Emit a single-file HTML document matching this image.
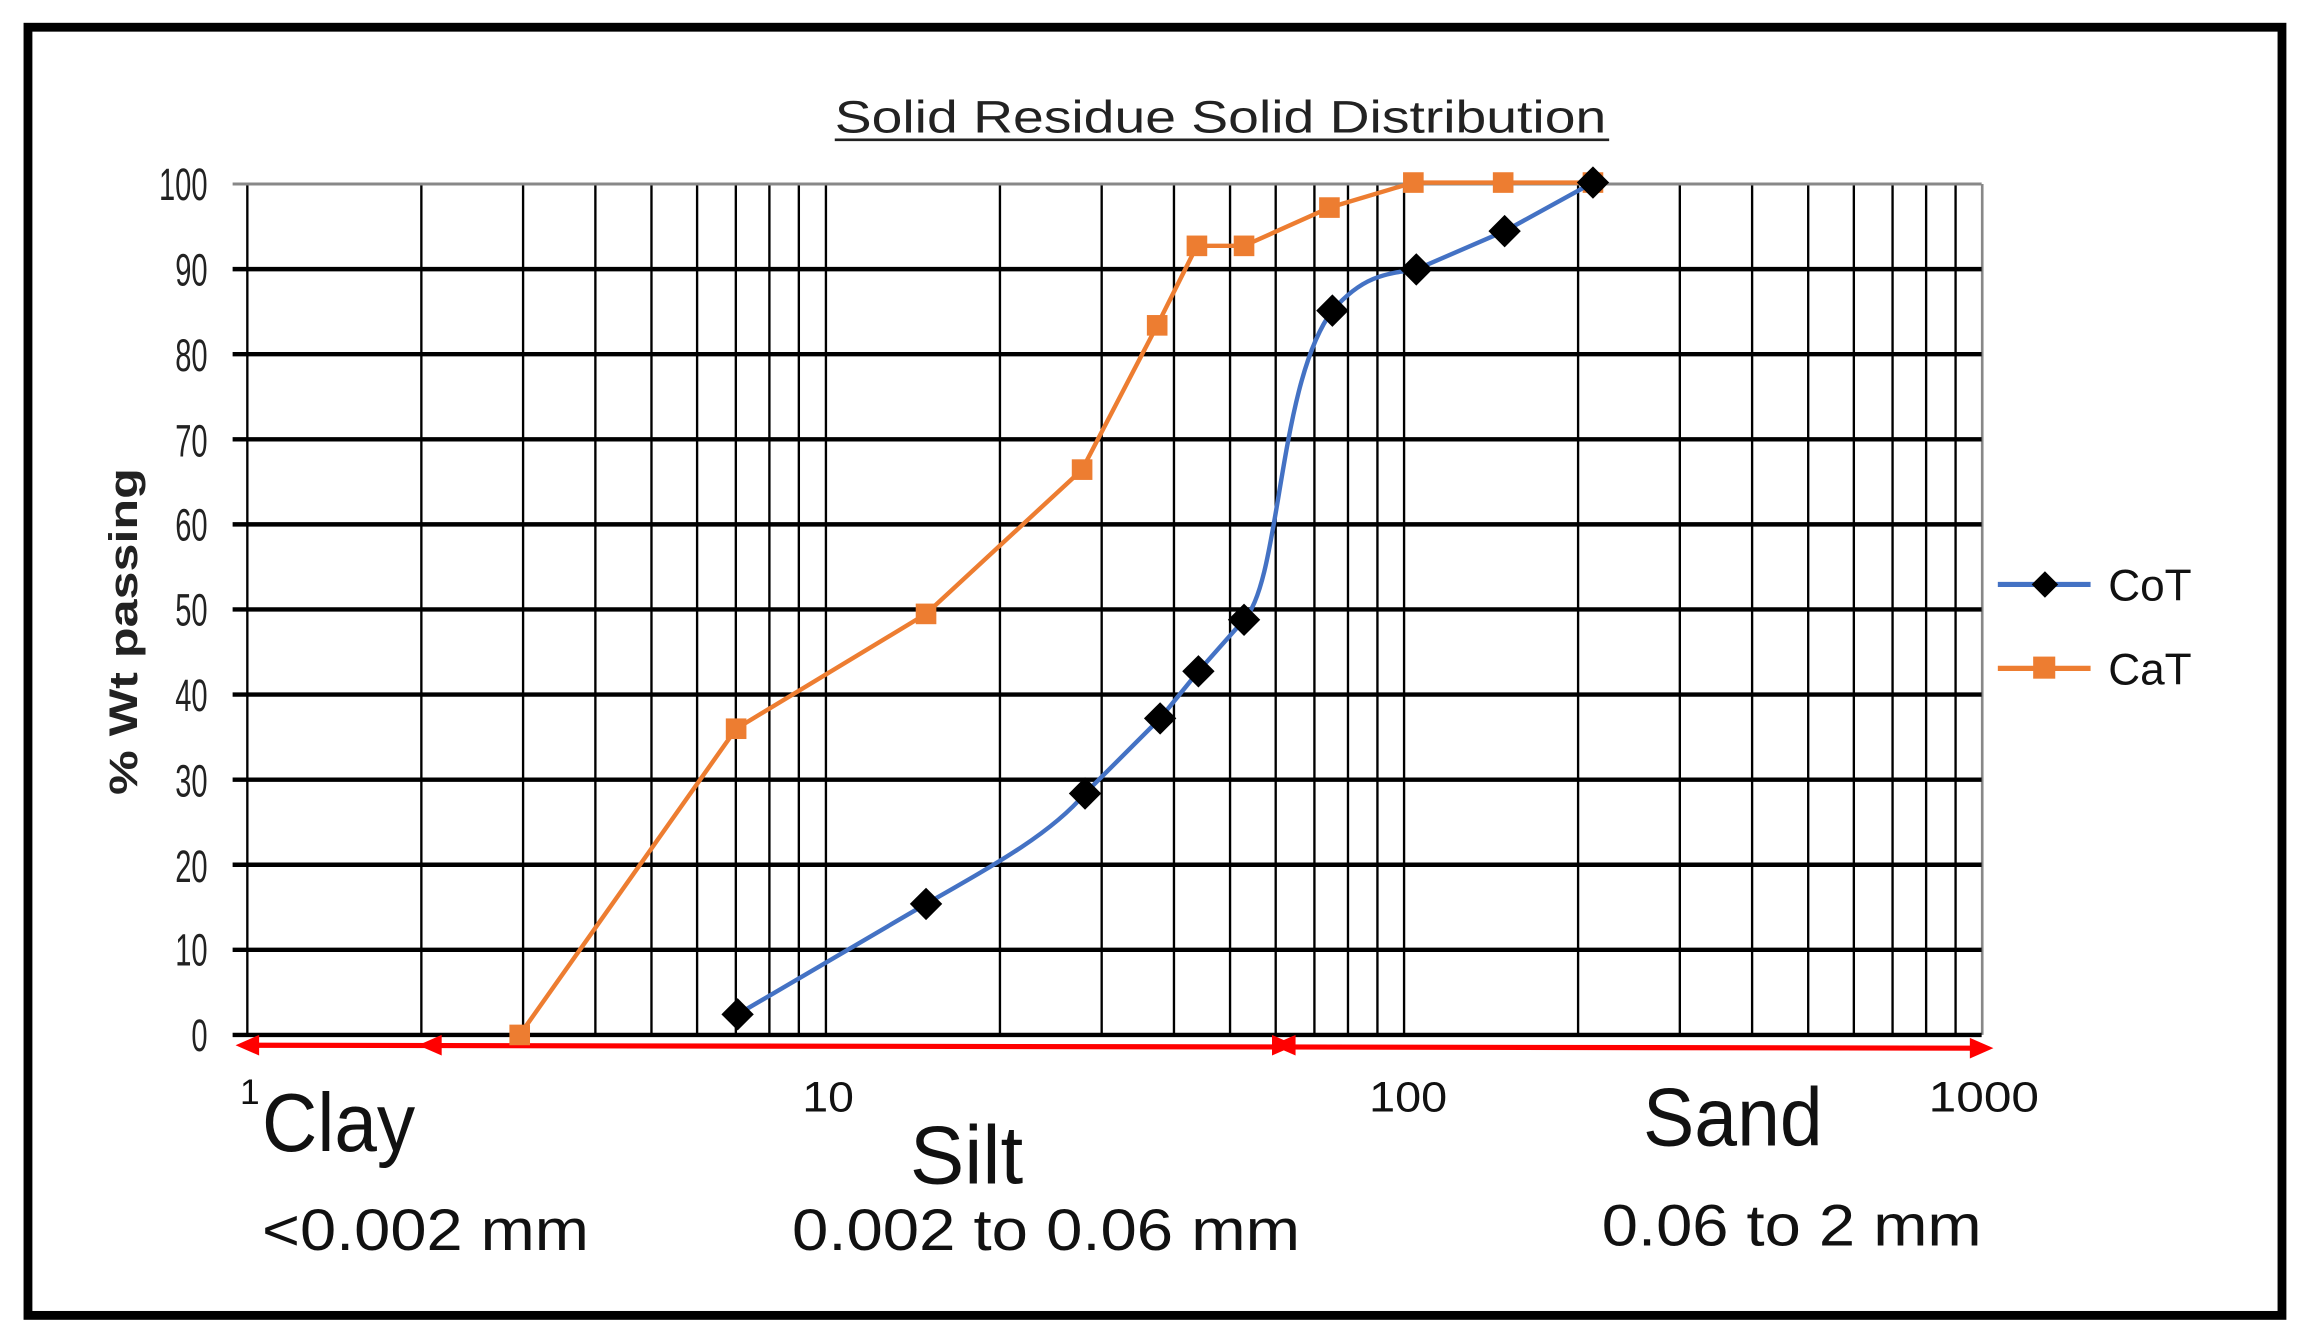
<!DOCTYPE html>
<html><head><style>html,body{margin:0;padding:0;background:#fff}svg{display:block}</style></head>
<body>
<svg width="2307" height="1341" viewBox="0 0 1567 910.9" preserveAspectRatio="none" xmlns="http://www.w3.org/2000/svg" font-family="Liberation Sans, sans-serif">
<rect x="0" y="0" width="1567" height="911" fill="#fff"/>
<rect x="19" y="18.5" width="1531" height="875" fill="none" stroke="#000" stroke-width="6"/>
<text x="567" y="90" font-size="31" fill="#222" textLength="524" lengthAdjust="spacingAndGlyphs">Solid Residue Solid Distribution</text>
<line x1="567" y1="95" x2="1093" y2="95" stroke="#222" stroke-width="1.8"/>
<g stroke="#000" stroke-width="1.6">
<line x1="168" y1="125" x2="168" y2="703"/>
<line x1="286.2" y1="125" x2="286.2" y2="703"/><line x1="355.3" y1="125" x2="355.3" y2="703"/><line x1="404.4" y1="125" x2="404.4" y2="703"/><line x1="442.5" y1="125" x2="442.5" y2="703"/><line x1="473.5" y1="125" x2="473.5" y2="703"/><line x1="499.8" y1="125" x2="499.8" y2="703"/><line x1="522.6" y1="125" x2="522.6" y2="703"/><line x1="542.6" y1="125" x2="542.6" y2="703"/><line x1="561" y1="125" x2="561" y2="703"/>
<line x1="679.2" y1="125" x2="679.2" y2="703"/><line x1="748.3" y1="125" x2="748.3" y2="703"/><line x1="797.4" y1="125" x2="797.4" y2="703"/><line x1="835.5" y1="125" x2="835.5" y2="703"/><line x1="866.5" y1="125" x2="866.5" y2="703"/><line x1="892.8" y1="125" x2="892.8" y2="703"/><line x1="915.6" y1="125" x2="915.6" y2="703"/><line x1="935.6" y1="125" x2="935.6" y2="703"/><line x1="953.7" y1="125" x2="953.7" y2="703"/>
<line x1="1071.9" y1="125" x2="1071.9" y2="703"/><line x1="1141" y1="125" x2="1141" y2="703"/><line x1="1190.1" y1="125" x2="1190.1" y2="703"/><line x1="1228.2" y1="125" x2="1228.2" y2="703"/><line x1="1259.2" y1="125" x2="1259.2" y2="703"/><line x1="1285.5" y1="125" x2="1285.5" y2="703"/><line x1="1308.3" y1="125" x2="1308.3" y2="703"/><line x1="1328.3" y1="125" x2="1328.3" y2="703"/>
</g>
<line x1="1346.4" y1="125" x2="1346.4" y2="703" stroke="#888" stroke-width="1.8"/>
<line x1="158" y1="125" x2="1346" y2="125" stroke="#888" stroke-width="2"/>
<g stroke="#000" stroke-width="3">
<line x1="158" y1="182.8" x2="1346" y2="182.8"/><line x1="158" y1="240.6" x2="1346" y2="240.6"/><line x1="158" y1="298.4" x2="1346" y2="298.4"/><line x1="158" y1="356.2" x2="1346" y2="356.2"/><line x1="158" y1="414" x2="1346" y2="414"/><line x1="158" y1="471.8" x2="1346" y2="471.8"/><line x1="158" y1="529.6" x2="1346" y2="529.6"/><line x1="158" y1="587.4" x2="1346" y2="587.4"/><line x1="158" y1="645.2" x2="1346" y2="645.2"/><line x1="158" y1="703" x2="1346" y2="703"/>
</g>
<g font-size="31" fill="#222">
<text x="108" y="136" textLength="33" lengthAdjust="spacingAndGlyphs">100</text>
<text x="119" y="194" textLength="22" lengthAdjust="spacingAndGlyphs">90</text><text x="119" y="252" textLength="22" lengthAdjust="spacingAndGlyphs">80</text><text x="119" y="310" textLength="22" lengthAdjust="spacingAndGlyphs">70</text><text x="119" y="367" textLength="22" lengthAdjust="spacingAndGlyphs">60</text><text x="119" y="425" textLength="22" lengthAdjust="spacingAndGlyphs">50</text><text x="119" y="483" textLength="22" lengthAdjust="spacingAndGlyphs">40</text><text x="119" y="541" textLength="22" lengthAdjust="spacingAndGlyphs">30</text><text x="119" y="599" textLength="22" lengthAdjust="spacingAndGlyphs">20</text><text x="119" y="656" textLength="22" lengthAdjust="spacingAndGlyphs">10</text><text x="130" y="714" textLength="11" lengthAdjust="spacingAndGlyphs">0</text>
</g>
<text transform="translate(93,429) rotate(-90)" font-size="27" font-weight="bold" text-anchor="middle" fill="#222" textLength="222" lengthAdjust="spacingAndGlyphs">% Wt passing</text>
<line x1="168" y1="710" x2="1346" y2="712" stroke="#f00" stroke-width="3.5"/>
<g fill="#f00">
<polygon points="160,710 176,703 176,717"/>
<polygon points="284,710 300,703 300,717"/>
<polygon points="880,710 864,703 864,717"/>
<polygon points="864,710 880,703 880,717"/>
<polygon points="1354,712 1338,705 1338,719"/>
</g>
<g fill="#111" font-size="29">
<text x="163" y="750" font-size="24">1</text>
<text x="545" y="755" textLength="35" lengthAdjust="spacingAndGlyphs">10</text>
<text x="930" y="755" textLength="53" lengthAdjust="spacingAndGlyphs">100</text>
<text x="1310" y="755" textLength="75" lengthAdjust="spacingAndGlyphs">1000</text>
</g>
<g fill="#111">
<text x="178" y="782" font-size="56" textLength="104" lengthAdjust="spacingAndGlyphs">Clay</text>
<text x="618" y="804" font-size="56" textLength="77" lengthAdjust="spacingAndGlyphs">Silt</text>
<text x="1116" y="778" font-size="56" textLength="122" lengthAdjust="spacingAndGlyphs">Sand</text>
<text x="178" y="849" font-size="40" textLength="222" lengthAdjust="spacingAndGlyphs">&lt;0.002 mm</text>
<text x="538" y="849" font-size="40" textLength="345" lengthAdjust="spacingAndGlyphs">0.002 to 0.06 mm</text>
<text x="1088" y="846" font-size="40" textLength="258" lengthAdjust="spacingAndGlyphs">0.06 to 2 mm</text>
</g>
<polyline fill="none" stroke="#ed7d31" stroke-width="3" points="353,703 500,495 629,417 735,319 786,221 813,167 845,167 903,141 960,124 1021,124 1082,124"/>
<g fill="#ed7d31">
<rect x="346" y="696" width="14" height="14"/><rect x="493" y="488" width="14" height="14"/><rect x="622" y="410" width="14" height="14"/><rect x="728" y="312" width="14" height="14"/><rect x="779" y="214" width="14" height="14"/><rect x="806" y="160" width="14" height="14"/><rect x="838" y="160" width="14" height="14"/><rect x="896" y="134" width="14" height="14"/><rect x="953" y="117" width="14" height="14"/><rect x="1014" y="117" width="14" height="14"/><rect x="1075" y="117" width="14" height="14"/>
</g>
<path fill="none" stroke="#4472c4" stroke-width="3" d="M501,689 L629,614 C680,585 715,565 737,539 L788,488 L814,456 L845,421 C870,395 868,260 905,211 C925,188 940,186 962,183 L1022,157 L1082,124"/>
<g fill="#000">
<polygon points="501,678 512,689 501,700 490,689"/><polygon points="629,603 640,614 629,625 618,614"/><polygon points="737,528 748,539 737,550 726,539"/><polygon points="788,477 799,488 788,499 777,488"/><polygon points="814,445 825,456 814,467 803,456"/><polygon points="845,410 856,421 845,432 834,421"/><polygon points="905,200 916,211 905,222 894,211"/><polygon points="962,172 973,183 962,194 951,183"/><polygon points="1022,146 1033,157 1022,168 1011,157"/><polygon points="1082,113 1093,124 1082,135 1071,124"/>
</g>
<line x1="1357" y1="397" x2="1420" y2="397" stroke="#4472c4" stroke-width="3.5"/>
<polygon points="1389,388 1398,397 1389,406 1380,397" fill="#000"/>
<text x="1432" y="408" font-size="30" fill="#111">CoT</text>
<line x1="1357" y1="454" x2="1420" y2="454" stroke="#ed7d31" stroke-width="3.5"/>
<rect x="1381" y="446" width="15" height="15" fill="#ed7d31"/>
<text x="1432" y="465" font-size="30" fill="#111">CaT</text>
</svg>
</body></html>
